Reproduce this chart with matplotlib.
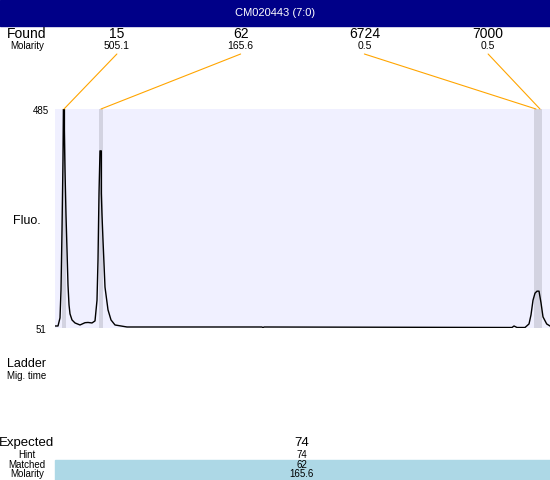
import matplotlib
matplotlib.use("Agg")
import matplotlib.pyplot as plt
from matplotlib.patches import Rectangle, ConnectionPatch

plt.rcParams['font.family'] = ['Liberation Sans', 'DejaVu Sans']

titre = "CM020443 (7:0)"
y_min, y_max = 51, 485

trace_x = [0, 3, 5, 6, 7, 8, 8.5, 9.3, 9.3, 10, 11, 12, 13, 14, 15, 17, 20, 25, 30, 33, 37, 40,
           42, 43, 44, 45, 46.3, 46.3, 47, 48, 50, 53, 56, 60, 72, 207, 208, 209, 457, 459, 462,
           470, 474, 476, 478, 480, 482, 484, 486, 488, 491.7, 495]
trace_y = [55, 55, 71, 126, 245, 384, 485, 485, 443, 364, 275, 206, 136, 97, 79, 67, 61, 57, 61.5,
           62, 61, 65, 106, 186, 318, 402, 402, 318, 275, 225, 132, 87, 67, 57, 53, 53, 51.5, 53,
           52, 55, 52, 52, 59, 77, 106, 120, 124, 124, 101, 73, 59, 55]

found_size = ["15", "62", "6724", "7000"]
found_molarity = ["505.1", "165.6", "0.5", "0.5"]
found_pos = [9, 46, 481, 485]

expected = "74"
hint = "74"
matched = "62"
matched_molarity = "165.6"

fig = plt.figure(figsize=(5.5, 4.8), dpi=100)

# fond en pixels pour les textes
bg = fig.add_axes([0, 0, 1, 1])
bg.set_xlim(0, 550)
bg.set_ylim(480, 0)
bg.axis('off')

bg.add_patch(Rectangle((0, 0), 550, 26, color='#000088'))
bg.text(275, 13, titre, color='white', fontsize=8, ha='center', va='center')

bg.text(27, 34, "Found", fontsize=10, ha='center', va='center')
bg.text(27, 46, "Molarity", fontsize=7, ha='center', va='center')
bg.text(27, 221, "Fluo.", fontsize=9, ha='center', va='center')
bg.text(41, 111, str(y_max), fontsize=7, ha='center', va='center')
bg.text(41, 330, str(y_min), fontsize=7, ha='center', va='center')
bg.text(27, 364, "Ladder", fontsize=9, ha='center', va='center')
bg.text(27, 376, "Mig. time", fontsize=7, ha='center', va='center')
bg.text(27, 443, "Expected", fontsize=9.5, ha='center', va='center')
bg.text(27, 455, "Hint", fontsize=7, ha='center', va='center')
bg.text(27, 465, "Matched", fontsize=7, ha='center', va='center')
bg.text(27, 474, "Molarity", fontsize=7, ha='center', va='center')

bg.add_patch(Rectangle((55, 460), 495, 20, color='#add8e6'))
bg.text(302, 443, expected, fontsize=9.5, ha='center', va='center')
bg.text(302, 455, hint, fontsize=7, ha='center', va='center')
bg.text(302, 465, matched, fontsize=7, ha='center', va='center')
bg.text(302, 474, matched_molarity, fontsize=7, ha='center', va='center')

# zone du signal
ax = fig.add_axes([55 / 550, 152 / 480, 495 / 550, 219 / 480])
ax.set_facecolor('#f0f0ff')
ax.set_xlim(0, 495)
ax.set_ylim(y_min, y_max)
ax.set_xticks([])
ax.set_yticks([])
for s in ax.spines.values():
    s.set_visible(False)

for p in found_pos:
    ax.axvspan(p - 2, p + 2, color='#d3d3e1', lw=0)
ax.plot(trace_x, trace_y, color='black', lw=1)

# etiquettes des pics et traits de liaison
n = len(found_size)
for i in range(n):
    lx = 55 + 495 * (i + 0.5) / n
    bg.text(lx, 34, found_size[i], fontsize=10, ha='center', va='center')
    bg.text(lx, 46, found_molarity[i], fontsize=7.5, ha='center', va='center')
    con = ConnectionPatch(xyA=(lx, 54), coordsA=bg.transData,
                          xyB=(found_pos[i], y_max), coordsB=ax.transData,
                          color='orange', lw=0.8)
    fig.add_artist(con)

plt.savefig("out.png", dpi=100)
